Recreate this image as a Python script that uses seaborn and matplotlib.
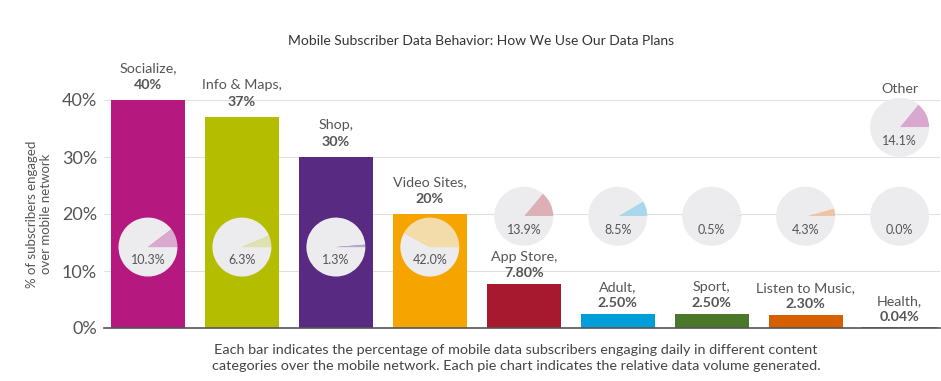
import numpy as np
import pandas as pd
import matplotlib
matplotlib.use("Agg")
import matplotlib.pyplot as plt
import seaborn as sns

# data
categories = ["Socialize", "Info & Maps", "Shop", "Video Sites", "App Store",
              "Adult", "Sport", "Listen to Music", "Health"]
engaged = [40, 37, 30, 20, 7.80, 2.50, 2.50, 2.30, 0.04]
engaged_labels = ["40%", "37%", "30%", "20%", "7.80%", "2.50%", "2.50%", "2.30%", "0.04%"]
volume_share = [10.3, 6.3, 1.3, 42.0, 13.9, 8.5, 0.5, 4.3, 0.0]
other_share = 14.1
y_ticks = [0, 10, 20, 30, 40]
y_tick_labels = ["0%", "10%", "20%", "30%", "40%"]

bar_colors = ["#b5197f", "#b5bd00", "#592a82", "#f5a400", "#a6192e",
              "#009fda", "#4a7729", "#d65f00", "#555555"]
pie_colors = ["#dba9cf", "#dfe2b0", "#b9a6cc", "#f3dcaa", "#ddb0b8",
              "#a9d8ec", "#b7c8aa", "#eec4a2", "#bbbbbb"]
other_color = "#d9a8cf"
pie_bg = "#ececee"
text_gray = "#555555"

sns.set_style("white")
plt.rcParams["font.family"] = ["Lato", "DejaVu Sans"]

fig = plt.figure(figsize=(9.41, 3.81), dpi=100)
ax = fig.add_axes([104 / 941, 53 / 381, (940 - 104) / 941, 228 / 381])

df = pd.DataFrame({"category": categories, "engaged": engaged})
sns.barplot(data=df, x="category", y="engaged", hue="category", palette=bar_colors,
            legend=False, width=0.79, ax=ax, saturation=1, linewidth=0, zorder=2)
# the health bar is only a hairline in the original
ax.patches[8].set_edgecolor("#555555")
ax.patches[8].set_linewidth(1.2)

ax.set_xlim(-0.468, 8.43)
ax.set_ylim(0, 40)
ax.set_yticks(y_ticks, y_tick_labels, fontsize=13, color=text_gray)
ax.tick_params(axis="y", length=0, pad=5)
ax.set_xticks([-0.42], [""])
ax.tick_params(axis="x", length=7, width=1, color="#555555", direction="out")
ax.set_xlabel("")
ax.set_ylabel("% of subscribers engaged\nover mobile network", fontsize=9.5,
              color=text_gray, labelpad=7, linespacing=1.25)
for y in y_ticks[1:]:
    ax.axhline(y, color="#e0e0e0", lw=0.8, zorder=0)
for s in ["top", "right", "left"]:
    ax.spines[s].set_visible(False)
ax.spines["bottom"].set_color("#555555")
ax.spines["bottom"].set_linewidth(1.2)

# labels above bars
for i, (cat, val, lab) in enumerate(zip(categories, engaged, engaged_labels)):
    off_val, off_cat = (15, 32) if val > 15 else (11, 27)
    ax.annotate(lab, (i, val), xytext=(0, off_val * 0.72), textcoords="offset points",
                ha="center", va="center", fontsize=10.3, fontweight="bold",
                color=text_gray, annotation_clip=False)
    ax.annotate(cat + ",", (i, val), xytext=(0, off_cat * 0.72), textcoords="offset points",
                ha="center", va="center", fontsize=10.3, color=text_gray,
                annotation_clip=False)

# pies
px_per_unit = 228 / 40
size_x = 59 / 94
size_y = 59 / px_per_unit


def draw_pie(x, y, share, color, label):
    ins = ax.inset_axes([x - size_x / 2, y - size_y / 2, size_x, size_y],
                        transform=ax.transData, zorder=5)
    ins.pie([share, 100 - share], colors=[color, pie_bg], startangle=0,
            counterclock=True, radius=1, wedgeprops={"linewidth": 0})
    ins.set_xlim(-1, 1)
    ins.set_ylim(-1, 1)
    ins.set_aspect("equal")
    ins.axis("off")
    ins.text(0, -0.45, f"{share:.1f}%", ha="center", va="center",
             fontsize=9, color=text_gray)
    if label:
        ins.text(0, 1.3, label, ha="center", va="center", fontsize=10.3,
                 color=text_gray)


for i, (val, share) in enumerate(zip(engaged, volume_share)):
    y = 14.2 if val > 15 else 19.6
    draw_pie(i, y, share, pie_colors[i], None)
draw_pie(8, 35.2, other_share, other_color, "Other")

fig.text(481 / 941, 1 - 41 / 381,
         "Mobile Subscriber Data Behavior: How We Use Our Data Plans",
         ha="center", va="center", fontsize=10, color="#333333")
fig.text(516 / 941, 1 - 358 / 381,
         "Each bar indicates the percentage of mobile data subscribers engaging daily in different content\n"
         "categories over the mobile network. Each pie chart indicates the relative data volume generated.",
         ha="center", va="center", fontsize=10.4, color="#444444", linespacing=1.3)

fig.savefig("out.png", dpi=100)
